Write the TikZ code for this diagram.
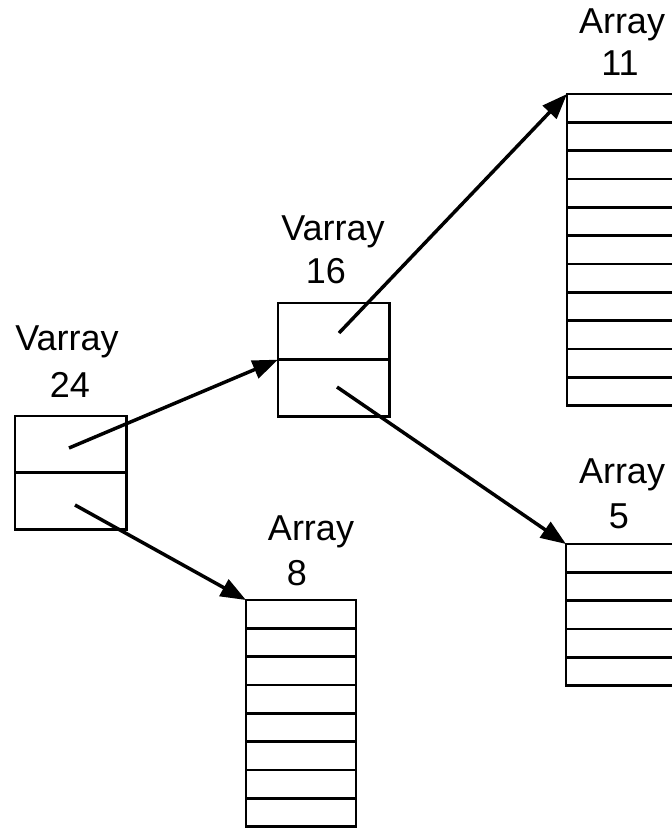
\documentclass[tikz,border=0pt]{standalone}
\usepackage{fontspec}
\setmainfont{Liberation Sans}
\usetikzlibrary{arrows.meta, calc}

\begin{document}
\begin{tikzpicture}[x=0.75pt, y=-0.75pt, >={Triangle[length=19pt, width=14pt]},
  every node/.style={font=\fontsize{27}{32}\selectfont},
  varbox/.style={draw, line width=1.8pt, inner sep=0pt, outer sep=0pt, anchor=north west, minimum width=83.5pt, minimum height=85pt},
  arrbox/.style={draw, line width=1.8pt, inner sep=0pt, outer sep=0pt, anchor=north west, minimum width=82.5pt, minimum height=#1*21.25pt},
  ptr/.style={->, line width=2.6pt}]
  \useasboundingbox (0,0) rectangle (671,828);
  % varrays
  \node[varbox] (v24) at (15,416) {};
  \draw[line width=1.8pt] (v24.west) -- (v24.east);
  \node[anchor=base] (v24name) at (67,350) {Varray};
  \node[anchor=base] (v24size) at (70,397) {24};
  \node[varbox] (v16) at (278,303) {};
  \draw[line width=1.8pt] (v16.west) -- (v16.east);
  \node[anchor=base] (v16name) at (333,240) {Varray};
  \node[anchor=base] (v16size) at (326,283) {16};
  % arrays
  \node[arrbox=11] (arr11) at (567,94) {};
  \foreach \i in {1,...,10}
    \draw[line width=1.8pt] ($(arr11.north west)+(0,\i*28.33)$) -- ($(arr11.north east)+(0,\i*28.33)$);
  \node[anchor=base] (arr11name) at (622,33) {Array};
  \node[anchor=base] (arr11size) at (620,75) {11};
  \node[arrbox=5] (arr5) at (566,544) {};
  \foreach \i in {1,...,4}
    \draw[line width=1.8pt] ($(arr5.north west)+(0,\i*28.33)$) -- ($(arr5.north east)+(0,\i*28.33)$);
  \node[anchor=base] (arr5name) at (622,483) {Array};
  \node[anchor=base] (arr5size) at (619,528) {5};
  \node[arrbox=8] (arr8) at (246,600) {};
  \foreach \i in {1,...,7}
    \draw[line width=1.8pt] ($(arr8.north west)+(0,\i*28.33)$) -- ($(arr8.north east)+(0,\i*28.33)$);
  \node[anchor=base] (arr8name) at (311,540) {Array};
  \node[anchor=base] (arr8size) at (297,585) {8};
  % pointers
  \coordinate (v24top) at ($(v24.north west)+(54,32)$);
  \coordinate (v24bot) at ($(v24.north west)+(60,89)$);
  \coordinate (v16top) at ($(v16.north west)+(61,30)$);
  \coordinate (v16bot) at ($(v16.north west)+(59,84)$);
  \draw[ptr] (v24top) -- (v16.west);
  \draw[ptr] (v24bot) -- (arr8.north west);
  \draw[ptr] (v16top) -- (arr11.north west);
  \draw[ptr] (v16bot) -- (arr5.north west);
\end{tikzpicture}
\end{document}
